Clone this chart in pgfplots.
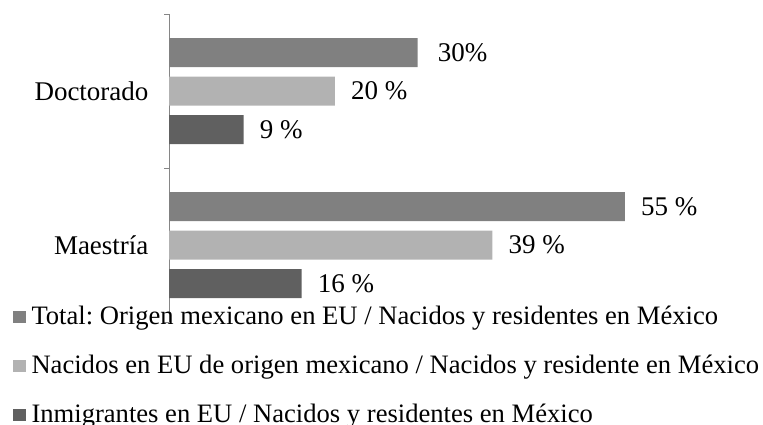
\documentclass[border=0pt]{standalone}
\usepackage{fontspec}
\setmainfont{Liberation Serif}
\usepackage{pgfplots}
\pgfplotsset{compat=1.18}
\definecolor{cTot}{HTML}{808080}
\definecolor{cNac}{HTML}{B2B2B2}
\definecolor{cInm}{HTML}{606060}
\definecolor{cAx}{HTML}{868686}
\begin{document}
\frenchspacing
\begin{tikzpicture}
\begin{axis}[
  at={(169pt,-322pt)}, anchor=south west,
  scale only axis,
  width=580.3pt, height=308pt,
  xmin=0, xmax=70,
  ymin=-0.5, ymax=1.5,
  font=\fontsize{27}{32}\selectfont,
  axis x line=none,
  axis y line*=left,
  y axis line style={draw=cAx, line width=0.8pt, -},
  ytick={-0.5,0.5,1.5},
  yticklabels={},
  tick align=outside,
  major tick length=5pt,
  ytick style={draw=cAx, line width=0.8pt},
  extra y ticks={0,1},
  extra y tick labels={Maestría,Doctorado},
  extra y tick style={major tick length=0pt, yticklabel style={xshift=-17pt}},
  xbar,
  bar width=29pt,
  nodes near coords,
  point meta=explicit symbolic,
  every node near coord/.append style={anchor=west, inner sep=0pt, xshift=16pt, black, font=\fontsize{27}{32}\selectfont},
  legend style={draw=none, fill=none, at={(-0.2688,0.0515)}, anchor=north west,
    inner sep=0pt, outer sep=0pt, row sep=25pt,
    nodes={inner sep=0pt, outer sep=0pt, text height=18pt, text depth=6pt},
    font=\fontsize{26.6}{32}\selectfont},
  legend cell align=left,
  legend image code/.code={\fill[#1] (0pt,-5pt) rectangle (12.5pt,7pt);},
  clip=false,
]
\addplot[fill=cTot, draw=none, bar shift=38.5pt] coordinates {(30,1) [\hspace*{4pt}30\%] (55,0) [55 \%]};
\addplot[fill=cNac, draw=none, bar shift=0pt] coordinates {(20,1) [20 \%] (39,0) [39 \%]};
\addplot[fill=cInm, draw=none, bar shift=-38.5pt] coordinates {(9,1) [9 \%] (16,0) [16 \%]};
\legend{\hspace*{6pt}Total: Origen mexicano en EU / Nacidos y residentes en México,
\hspace*{6pt}Nacidos en EU de origen mexicano / Nacidos y residente en México,
\hspace*{6pt}Inmigrantes en EU / Nacidos y residentes en México}
\end{axis}
\pgfresetboundingbox
\path (0pt,0pt) rectangle (763pt,-425pt);
\end{tikzpicture}
\end{document}
